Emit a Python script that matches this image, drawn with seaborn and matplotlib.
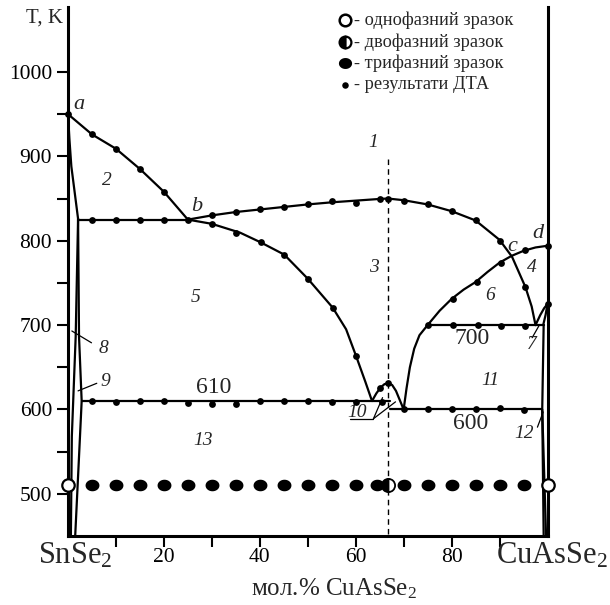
import numpy as np
import matplotlib
matplotlib.use('Agg')
import matplotlib.pyplot as plt
import seaborn as sns
from matplotlib.path import Path

# phase boundary curves: composition (mol.% CuAsSe2) and temperature (K)
liq_ab_x = [0, 5, 10, 15, 20, 25]
liq_ab_t = [950, 926, 909, 885, 858, 825]

liq_top_x = [25, 30, 35, 40, 45, 50, 55, 60, 65, 66.7, 70, 75, 80, 85, 90, 92.6, 95.4, 96.7, 97.5]
liq_top_t = [825, 830, 834, 837, 840, 843, 845.5, 847.5, 849.5, 850, 848, 843, 835, 824, 801, 781, 745, 722, 700]

sol_b_x = [25, 30, 35.9, 40.2, 45.1, 50, 55.2, 58, 60.1, 62, 63.4]
sol_b_t = [825, 820, 809.5, 798, 783.5, 755, 720.7, 695, 663, 633, 610]

dome_x = [63.4, 64.3, 65.2, 66, 66.8, 67.6, 68.4, 69.2, 70]
dome_t = [610, 619, 626, 630, 631, 629, 622, 611, 600]

liq_r_x = [70, 70.6, 71.3, 72.2, 73.3, 75]
liq_r_t = [600, 625, 650, 672, 688, 700]

liq_d_x = [75, 77.5, 80, 82.5, 85, 87.5, 90, 92.5, 95, 97.5, 100]
liq_d_t = [700, 717, 731, 742, 751, 763, 774, 782, 788, 792, 794]

# SnSe2-side solid solution lines
sol_a_x = [0, 0.3, 0.7, 2.1]
sol_a_t = [950, 920, 888, 826]
ss_l1_x = [2.1, 1.6, 0.8, 0.6]
ss_l1_t = [826, 686, 568, 450]
ss_l2_x = [2.1, 2.3, 2.85, 2.5, 1.5]
ss_l2_t = [826, 686, 610, 568, 450]

# CuAsSe2-side lines
lens1_x = [97.5, 98.5, 99.3, 100]
lens1_t = [700, 712, 720, 725]
lens2_x = [99.1, 99.6, 100]
lens2_t = [700, 712, 725]
cu_l1_x = [99.2, 98.9, 99.2]
cu_l1_t = [700, 600, 450]
cu_l2_x = [98.9, 99.7]
cu_l2_t = [600, 450]

# isotherms: (x_start, x_end, T)
iso_x0 = [2.1, 2.85, 75, 67.2]
iso_x1 = [25, 67.2, 99.2, 98.9]
iso_t = [825, 610, 700, 600]

# DTA results
dta_x = [0, 5, 10, 15, 20, 25,
         5, 10, 15, 20,
         30, 35, 40, 45, 50, 55, 60, 65, 66.7, 70, 75, 80, 85, 90, 95.4,
         30, 35, 40.2, 45.1, 50, 55.2, 60.1,
         5, 10, 15, 20, 25, 30, 35, 40, 45, 50, 55, 60, 65.5,
         65, 66.8, 70,
         75, 80, 85, 90, 95,
         75, 80.2, 85.5, 90.2, 95.4,
         80.2, 85.3, 90.2, 95.4, 100, 100]
dta_t = [950, 926, 909, 885, 858, 825,
         825, 825, 825, 825,
         831, 834, 837, 840, 843, 846.5, 845, 850, 850, 847, 843, 835, 824, 800, 745,
         820, 809.5, 798, 783.5, 755, 720.7, 663,
         609.5, 608.6, 609.8, 609.5, 608, 607, 606.7, 610.3, 610.3, 610, 609, 609, 609,
         626, 631, 600,
         601, 601, 601, 602, 599,
         700, 700, 700, 699, 699,
         731, 751, 774, 789, 794, 725]

# X-ray samples at 511 K
tri_x = [5, 10, 15, 20, 25, 30, 35, 40, 45, 50, 55, 60, 64.5, 70, 75, 80, 85, 90, 95]
two_x = [66.7]
one_x = [0, 100]
xrd_t = 511

sns.set_style('ticks')
plt.rcParams['font.family'] = ['Liberation Serif', 'DejaVu Serif']
plt.rcParams['mathtext.fontset'] = 'custom'
plt.rcParams['mathtext.rm'] = 'Liberation Serif'
plt.rcParams['mathtext.it'] = 'Liberation Serif:italic'

fig = plt.figure(figsize=(6.1, 6.05), dpi=100)
ax = fig.add_axes([68 / 610, 69 / 605, 479.5 / 610, 529 / 605])


def curve(x, t, lw=1.6, **kw):
    sns.lineplot(x=x, y=t, ax=ax, sort=False, estimator=None, color='black',
                 lw=lw, **kw)


for xs, ts in [(liq_ab_x, liq_ab_t), (liq_top_x, liq_top_t), (sol_b_x, sol_b_t),
               (dome_x, dome_t), (liq_r_x, liq_r_t), (liq_d_x, liq_d_t),
               (sol_a_x, sol_a_t), (ss_l1_x, ss_l1_t), (ss_l2_x, ss_l2_t),
               (lens1_x, lens1_t), (lens2_x, lens2_t), (cu_l1_x, cu_l1_t),
               (cu_l2_x, cu_l2_t)]:
    curve(xs, ts)

for x0, x1, t in zip(iso_x0, iso_x1, iso_t):
    curve([x0, x1], [t, t])

# dashed line at the compound composition
curve([66.7, 66.7], [897, 450], lw=1.0, dashes=(4, 3))

# pointer lines for the small fields
for px, pt in [([0.8, 4.9], [693, 679]), ([2.1, 6.0], [622, 631]),
               ([58.9, 63.7], [589, 589]), ([63.7, 65.6], [589, 614]),
               ([63.7, 68.3], [589, 609]), ([96.8, 98.3], [685, 700]),
               ([97.9, 99.1], [579, 597])]:
    curve(px, pt, lw=0.9)

sns.scatterplot(x=dta_x, y=dta_t, ax=ax, color='black', s=24, linewidth=0,
                zorder=5, clip_on=False)

theta = np.linspace(0, 2 * np.pi, 41)
ell = Path(np.column_stack([1.2 * np.cos(theta), np.sin(theta)]), closed=True)
sns.scatterplot(x=tri_x, y=[xrd_t] * len(tri_x), ax=ax, marker=ell, s=100,
                color='black', linewidth=0, zorder=5)
sns.lineplot(x=two_x, y=[xrd_t], ax=ax, marker='o', markersize=9.5, lw=0,
             fillstyle='left', markerfacecolor='black', markerfacecoloralt='white',
             markeredgecolor='black', markeredgewidth=1.3, zorder=6)
sns.scatterplot(x=one_x, y=[xrd_t] * 2, ax=ax, s=80, color='white',
                edgecolor='black', linewidth=1.6, zorder=6, clip_on=False)

# legend drawn as marks + text
leg_x = 57.8
leg_t = [1061.5, 1035.5, 1010.6, 984.6]
leg_txt = ['- однофазний зразок', '- двофазний зразок', '- трифазний зразок',
           '- результати ДТА']
sns.scatterplot(x=[leg_x], y=[leg_t[0]], ax=ax, s=70, color='white',
                edgecolor='black', linewidth=1.8, zorder=6)
sns.lineplot(x=[leg_x], y=[leg_t[1]], ax=ax, marker='o', markersize=8.5, lw=0,
             fillstyle='left', markerfacecolor='black', markerfacecoloralt='white',
             markeredgecolor='black', markeredgewidth=1.6, zorder=6)
sns.scatterplot(x=[leg_x], y=[leg_t[2]], ax=ax, marker=ell, s=90, color='black',
                linewidth=0, zorder=6)
sns.scatterplot(x=[leg_x], y=[leg_t[3]], ax=ax, s=22, color='black',
                linewidth=0, zorder=6)
for t, s in zip(leg_t, leg_txt):
    ax.text(59.6, t, s, fontsize=13.2, va='center', ha='left')

# field labels
italic = [('a', 2.3, 962, 16), ('b', 26.9, 841, 16), ('c', 92.7, 793, 16),
          ('d', 98.1, 808, 16),
          ('1', 63.7, 916, 14), ('2', 8.1, 871, 14), ('3', 63.7, 768, 14),
          ('4', 96.7, 768, 14), ('5', 26.5, 733, 14), ('6', 88.1, 735, 14),
          ('7', 96.7, 677, 14), ('8', 7.5, 672, 14), ('9', 7.7, 633, 14),
          ('10', 60.3, 596, 14), ('11', 88.1, 634, 14), ('12', 95.2, 572, 14),
          ('13', 28.2, 563, 14)]
for s, x, t, fs in italic:
    ax.text(x, t, s, style='italic', fontsize=fs, ha='center', va='center')
for s, x, t in [('610', 30.3, 626), ('700', 84.3, 684), ('600', 83.9, 583)]:
    ax.text(x, t, s, fontsize=17, ha='center', va='center')

ax.set_xlim(0, 100)
ax.set_ylim(450, 1077)
ax.set_xticks(range(10, 100, 10))
ax.set_xticklabels(['', '20', '', '40', '', '60', '', '80', ''])
ax.set_yticks(range(500, 1001, 100))
ax.set_yticks(range(550, 1000, 100), minor=True)
ax.tick_params(axis='both', which='both', direction='out', length=8, width=1.5,
               labelsize=15.5, colors='black')
ax.tick_params(axis='x', pad=1)
ax.set_xlabel('')
ax.set_ylabel('')
ax.spines['top'].set_visible(False)
for side in ['left', 'right', 'bottom']:
    ax.spines[side].set_linewidth(2.2)
    ax.spines[side].set_color('black')

ax.text(-5, 1064, 'T, K', fontsize=15, ha='center', va='center', clip_on=False)
ax.text(1.5, 426, 'SnSe$_2$', fontsize=22, ha='center', va='center', clip_on=False)
ax.text(101, 426, 'CuAsSe$_2$', fontsize=22, ha='center', va='center', clip_on=False)
ax.text(55.4, 387, 'мол.% CuAsSe$_2$', fontsize=18, ha='center', va='center',
        clip_on=False)

fig.savefig('out.png', dpi=100)
